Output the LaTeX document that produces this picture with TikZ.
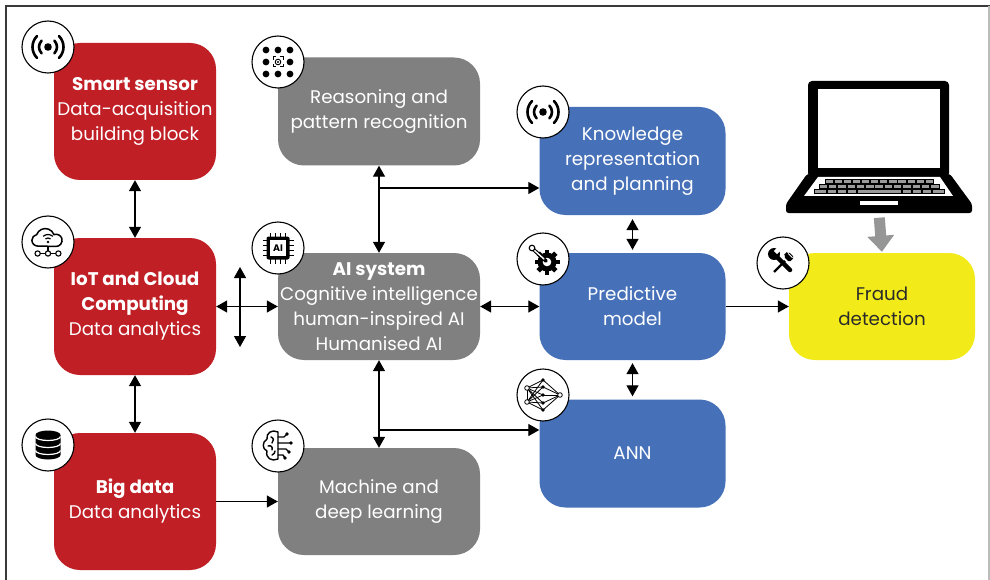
\documentclass[tikz,border=0pt]{standalone}
\usepackage{fontspec}
\setmainfont{Poppins}
\usetikzlibrary{arrows.meta,calc}

\definecolor{boxred}{HTML}{C01F26}
\definecolor{boxgray}{HTML}{808080}
\definecolor{boxblue}{HTML}{4671B9}
\definecolor{boxyellow}{HTML}{F2EA19}
\definecolor{textdark}{HTML}{2A2A2A}
\definecolor{framedark}{HTML}{3A3A3A}
\definecolor{framelight}{HTML}{BBBBBB}
\definecolor{arrowgray}{HTML}{969696}
\definecolor{keygray}{HTML}{9A9A9A}

\tikzset{
  box/.style={rounded corners=26pt, inner sep=0pt, align=center, text=white,
    font=\fontsize{18.3}{25}\selectfont},
  redbox/.style={box, fill=boxred, minimum width=162pt, minimum height=137pt},
  graybox/.style={box, fill=boxgray, minimum width=202pt, minimum height=107pt},
  bluebox/.style={box, fill=boxblue, minimum width=186pt, minimum height=107pt},
  yellowbox/.style={box, fill=boxyellow, text=textdark, minimum width=186pt, minimum height=107pt},
  iconring/.style={circle, draw=black, fill=white, line width=1.1pt, minimum size=52pt, inner sep=0pt},
  tip/.tip={Triangle[length=11pt,width=12pt]},
  link/.style={line width=1.3pt, black, tip-tip},
  feed/.style={line width=1.3pt, black, -tip},
  % broadcasting sensor symbol
  pics/broadcast/.style={code={
    \begin{scope}[yscale=-1]
      \fill (0,0) circle (3.8);
      \draw[line width=2.6pt, line cap=round]
        (45:9) arc[start angle=45, end angle=-45, radius=9]
        (135:9) arc[start angle=135, end angle=225, radius=9]
        (45:15.5) arc[start angle=45, end angle=-45, radius=15.5]
        (135:15.5) arc[start angle=135, end angle=225, radius=15.5];
    \end{scope}}},
  % cloud with wifi and network nodes
  pics/cloudnet/.style={code={
    \begin{scope}[yscale=-1, scale=1.15, line width=1.5pt]
      \draw (-9,-3.5) arc[start angle=270, end angle=100, radius=5]
        arc[start angle=160, end angle=20, radius=8]
        arc[start angle=110, end angle=-90, radius=5.3] -- cycle;
      \fill (0,0) circle (1.3);
      \draw[line width=1.2pt] (50:3.5) arc[start angle=50, end angle=130, radius=3.5];
      \draw[line width=1.2pt] (50:6.5) arc[start angle=50, end angle=130, radius=6.5];
      \draw[line width=1.2pt] (-9,-10) -- (9,-10) (0,-3.5) -- (0,-10);
      \foreach \xx in {-9,0,9} \draw[line width=1.1pt, fill=white] (\xx,-10) circle (2.3);
    \end{scope}}},
  % stacked database cylinder
  pics/database/.style={code={
    \begin{scope}[yscale=-1]
      \fill (-12.5,10) -- (-12.5,-10) arc[start angle=180, end angle=360, x radius=12.5, y radius=4.5]
        -- (12.5,10) arc[start angle=0, end angle=180, x radius=12.5, y radius=4.5] -- cycle;
      \foreach \yy in {8.5,1.5,-5.5}
        \draw[white, line width=1.2pt] (-12.5,\yy) arc[start angle=180, end angle=360, x radius=12.5, y radius=4];
    \end{scope}}},
  % dot matrix with focus target
  pics/dotgrid/.style={code={
    \begin{scope}[yscale=-1]
      \foreach \xx in {-12,0,12} \foreach \yy in {-12,0,12} {
        \ifnum\xx=0 \ifnum\yy=0 \else \fill (\xx,\yy) circle (3.4); \fi
        \else \fill (\xx,\yy) circle (3.4); \fi }
      \draw[line width=1pt] (-5,-2) -- (-5,-5) -- (-2,-5)
        (2,-5) -- (5,-5) -- (5,-2) (5,2) -- (5,5) -- (2,5)
        (-2,5) -- (-5,5) -- (-5,2);
      \draw[line width=0.9pt] (0,0) circle (2.8);
      \fill (0,0) circle (1.2);
    \end{scope}}},
  % processor chip labelled AI
  pics/aichip/.style={code={
    \begin{scope}[yscale=-1]
      \foreach \pp in {-7.5,-2.5,2.5,7.5} {
        \draw[line width=1.6pt] (\pp,10) -- (\pp,15.5) (\pp,-10) -- (\pp,-15.5)
          (10,\pp) -- (15.5,\pp) (-10,\pp) -- (-15.5,\pp); }
      \fill[rounded corners=2pt] (-11.5,-11.5) rectangle (11.5,11.5);
      \fill[white] (-8,-8) rectangle (8,8);
      \node[font=\bfseries\fontsize{9.5}{9.5}\selectfont, inner sep=0pt] at (0,0) {AI};
    \end{scope}}},
  % brain with circuit traces
  pics/braincircuit/.style={code={
    \begin{scope}[yscale=-1, line width=1.4pt, line cap=round, line join=round]
      \draw (0,14) .. controls (-6,17) and (-12,13) .. (-11,7)
        .. controls (-16,4) and (-16,-3) .. (-11,-5)
        .. controls (-13,-12) and (-6,-16) .. (0,-13) -- cycle;
      \draw (-7,9) .. controls (-4,8) and (-4,5) .. (-6,3)
        (-10,0) .. controls (-7,1) and (-5,-1) .. (-6,-4)
        (-6,-9) .. controls (-4,-8) and (-3,-7) .. (-3,-5);
      \draw (0,9) -- (6,9) -- (9,12) (0,3) -- (13,3) (0,-3) -- (8,-3) -- (11,-6)
        (0,-9) -- (5,-9) -- (7,-12);
      \foreach \pt in {(9,12),(13,3),(11,-6),(7,-12)} \fill \pt circle (1.9);
    \end{scope}}},
  % gear with a probe
  pics/gearprobe/.style={code={
    \begin{scope}[yscale=-1]
      \begin{scope}[shift={(4,-3)}]
        \foreach \aa in {0,45,...,315} \fill[rotate=\aa] (-2.4,8) rectangle (2.4,12.5);
        \fill (0,0) circle (9.5);
        \fill[white] (0,0) circle (4.3);
      \end{scope}
      \draw[line width=3.6pt, line cap=round] (-10,10) -- (3,-2);
      \draw[white, line width=1.4pt, line cap=round] (-9,9) -- (1,0);
      \draw[line width=1.1pt, fill=white] (-11,11) circle (2.8);
    \end{scope}}},
  % small neural network
  pics/neuralnet/.style={code={
    \begin{scope}[yscale=-1, line width=0.8pt]
      \foreach \ly in {7,-7} \foreach \my in {15,8,0,-8,-15} \draw (-16,\ly) -- (0,\my);
      \foreach \my in {15,8,0,-8,-15} \draw (0,\my) -- (17,0);
      \draw (-16,7) -- (-16,-7);
      \foreach \my in {15,8,0,-8,-15} \fill (0,\my) circle (1.8);
      \draw[fill=white] (-16,7) circle (2.3) (-16,-7) circle (2.3) (17,0) circle (2.3);
    \end{scope}}},
  % wrench crossed with a screwdriver
  pics/tools/.style={code={
    \begin{scope}[yscale=-1]
      % wrench
      \draw[line width=4.5pt, line cap=round] (-8,8) -- (7,-7);
      \fill (-9,9) circle (6);
      \fill[white, rotate around={45:(-9,9)}] (-11.2,11) rectangle (-6.8,16);
      % screwdriver
      \draw[line width=2.2pt] (-9,-9) -- (2,2);
      \fill[rotate around={45:(6,6)}, rounded corners=1.5pt] (2,2.6) rectangle (10,9.4);
      \fill[rotate around={45:(6,6)}] (1,4.2) rectangle (3,7.8);
      \draw[white, line width=0.9pt] (5.2,9.6) -- (9.6,5.2) (7.6,11.4) -- (11.4,7.6);
    \end{scope}}}
}

\begin{document}
\begin{tikzpicture}[x=1pt, y=-1pt]
  \useasboundingbox (0,0) rectangle (990,580);
  \fill[white] (0,0) rectangle (990,580);

  % page frame
  \draw[framedark, line width=1.5pt] (6,580) -- (6,6) -- (990,6);
  \draw[framelight, line width=1.5pt] (989,6) -- (989,580);

  % left column: data sources
  \node[redbox] (sensor) at (135,111.5) {\textbf{Smart sensor}\\Data-acquisition\\building block};
  \node[redbox] (iot) at (135,306.5) {\textbf{IoT and Cloud}\\\textbf{Computing}\\Data analytics};
  \node[redbox] (big) at (135,501.5) {\textbf{Big data}\\Data analytics};

  % middle column: AI building blocks
  \node[graybox, minimum height=108pt] (reason) at (379,111.5) {Reasoning and\\pattern recognition};
  \node[graybox] (ai) at (379,306.5) {\textbf{AI system}\\Cognitive intelligence\\human-inspired AI\\Humanised AI};
  \node[graybox] (ml) at (379,501.5) {Machine and\\deep learning};

  % right column: models
  \node[bluebox, minimum height=108pt] (know) at (632.5,161) {Knowledge\\representation\\and planning};
  \node[bluebox] (pred) at (632.5,306.5) {Predictive\\model};
  \node[bluebox, minimum height=108pt] (ann) at (632.5,453.5) {ANN};

  % application
  \node[yellowbox] (fraud) at (882,306.5) {Fraud\\detection};

  % laptop
  \node[minimum width=187pt, minimum height=133pt, inner sep=0pt] (laptop) at (879,147) {};
  \fill[black, rounded corners=4pt] (808,81) rectangle (949,177);
  \fill[white] (818,89) rectangle (940,168);
  \fill[black, rounded corners=2.5pt] (807,174) -- (950,174) -- (972,204) -- (972,213)
    -- (786,213) -- (786,204) -- cycle;
  \fill[white] (818,177) -- (940,177) -- (953,196) -- (804,196) -- cycle;
  \foreach \kk in {0,...,11}
    \draw[fill=keygray, line width=0.7pt] (825+\kk*9.1,179.5) rectangle ++(8.2,4.2);
  \foreach \kk in {0,...,12}
    \draw[fill=keygray, line width=0.7pt] (819+\kk*9.3,184.5) rectangle ++(8.4,4.2);
  \draw[fill=keygray, line width=0.7pt] (814,189.5) rectangle ++(12,4.2)
    (827,189.5) rectangle ++(9,4.2) (837,189.5) rectangle ++(9,4.2) (847,189.5) rectangle ++(9,4.2)
    (857,189.5) rectangle ++(44,4.2) (902,189.5) rectangle ++(9,4.2) (912,189.5) rectangle ++(9,4.2)
    (922,189.5) rectangle ++(9,4.2) (932,189.5) rectangle ++(12,4.2);
  \fill[white] (860,201) rectangle (898,205);

  % icon badges
  \node[iconring] (icSensor) at (48,47) {};
  \pic at (icSensor) {broadcast};
  \node[iconring] (icIot) at (48,242) {};
  \pic at (icIot) {cloudnet};
  \node[iconring] (icBig) at (48,445) {};
  \pic at (icBig) {database};
  \node[iconring] (icReason) at (278,62) {};
  \pic at (icReason) {dotgrid};
  \node[iconring] (icAi) at (278,248) {};
  \pic at (icAi) {aichip};
  \node[iconring] (icMl) at (278,446) {};
  \pic at (icMl) {braincircuit};
  \node[iconring] (icKnow) at (543,112) {};
  \pic at (icKnow) {broadcast};
  \node[iconring] (icPred) at (543,259) {};
  \pic at (icPred) {gearprobe};
  \node[iconring] (icAnn) at (543,395) {};
  \pic at (icAnn) {neuralnet};
  \node[iconring] (icFraud) at (783,263) {};
  \pic at (icFraud) {tools};

  % connectors
  \coordinate (crossT) at (240,267);
  \coordinate (crossB) at (240,347);
  \coordinate (kbr) at (379,188);
  \coordinate (abr) at (379,430);

  \draw[link] (sensor.south) -- (iot.north);
  \draw[link] (iot.south) -- (big.north);
  \draw[link] (iot.east) -- (ai.west);
  \draw[link] (crossT) -- (crossB);
  \draw[link] (ai.east) -- (pred.west);
  \draw[feed] (pred.east) -- (fraud.west);
  \draw[link] (ai.north) -- (reason.south);
  \draw[feed] (kbr) -- (know.west |- kbr);
  \draw[link] (ai.south) -- (ml.north);
  \draw[feed] (abr) -- (ann.west |- abr);
  \draw[feed] (big.east) -- (ml.west);
  \draw[link, shorten <=4pt, shorten >=3pt] (know.south) -- (pred.north);
  \draw[link, shorten <=3pt, shorten >=3pt] (pred.south) -- (ann.north);
  \draw[arrowgray, line width=11pt, shorten <=4pt, shorten >=1pt,
    -{Triangle[length=16pt,width=26pt]}] (laptop.south) -- (fraud.north);
\end{tikzpicture}
\end{document}
